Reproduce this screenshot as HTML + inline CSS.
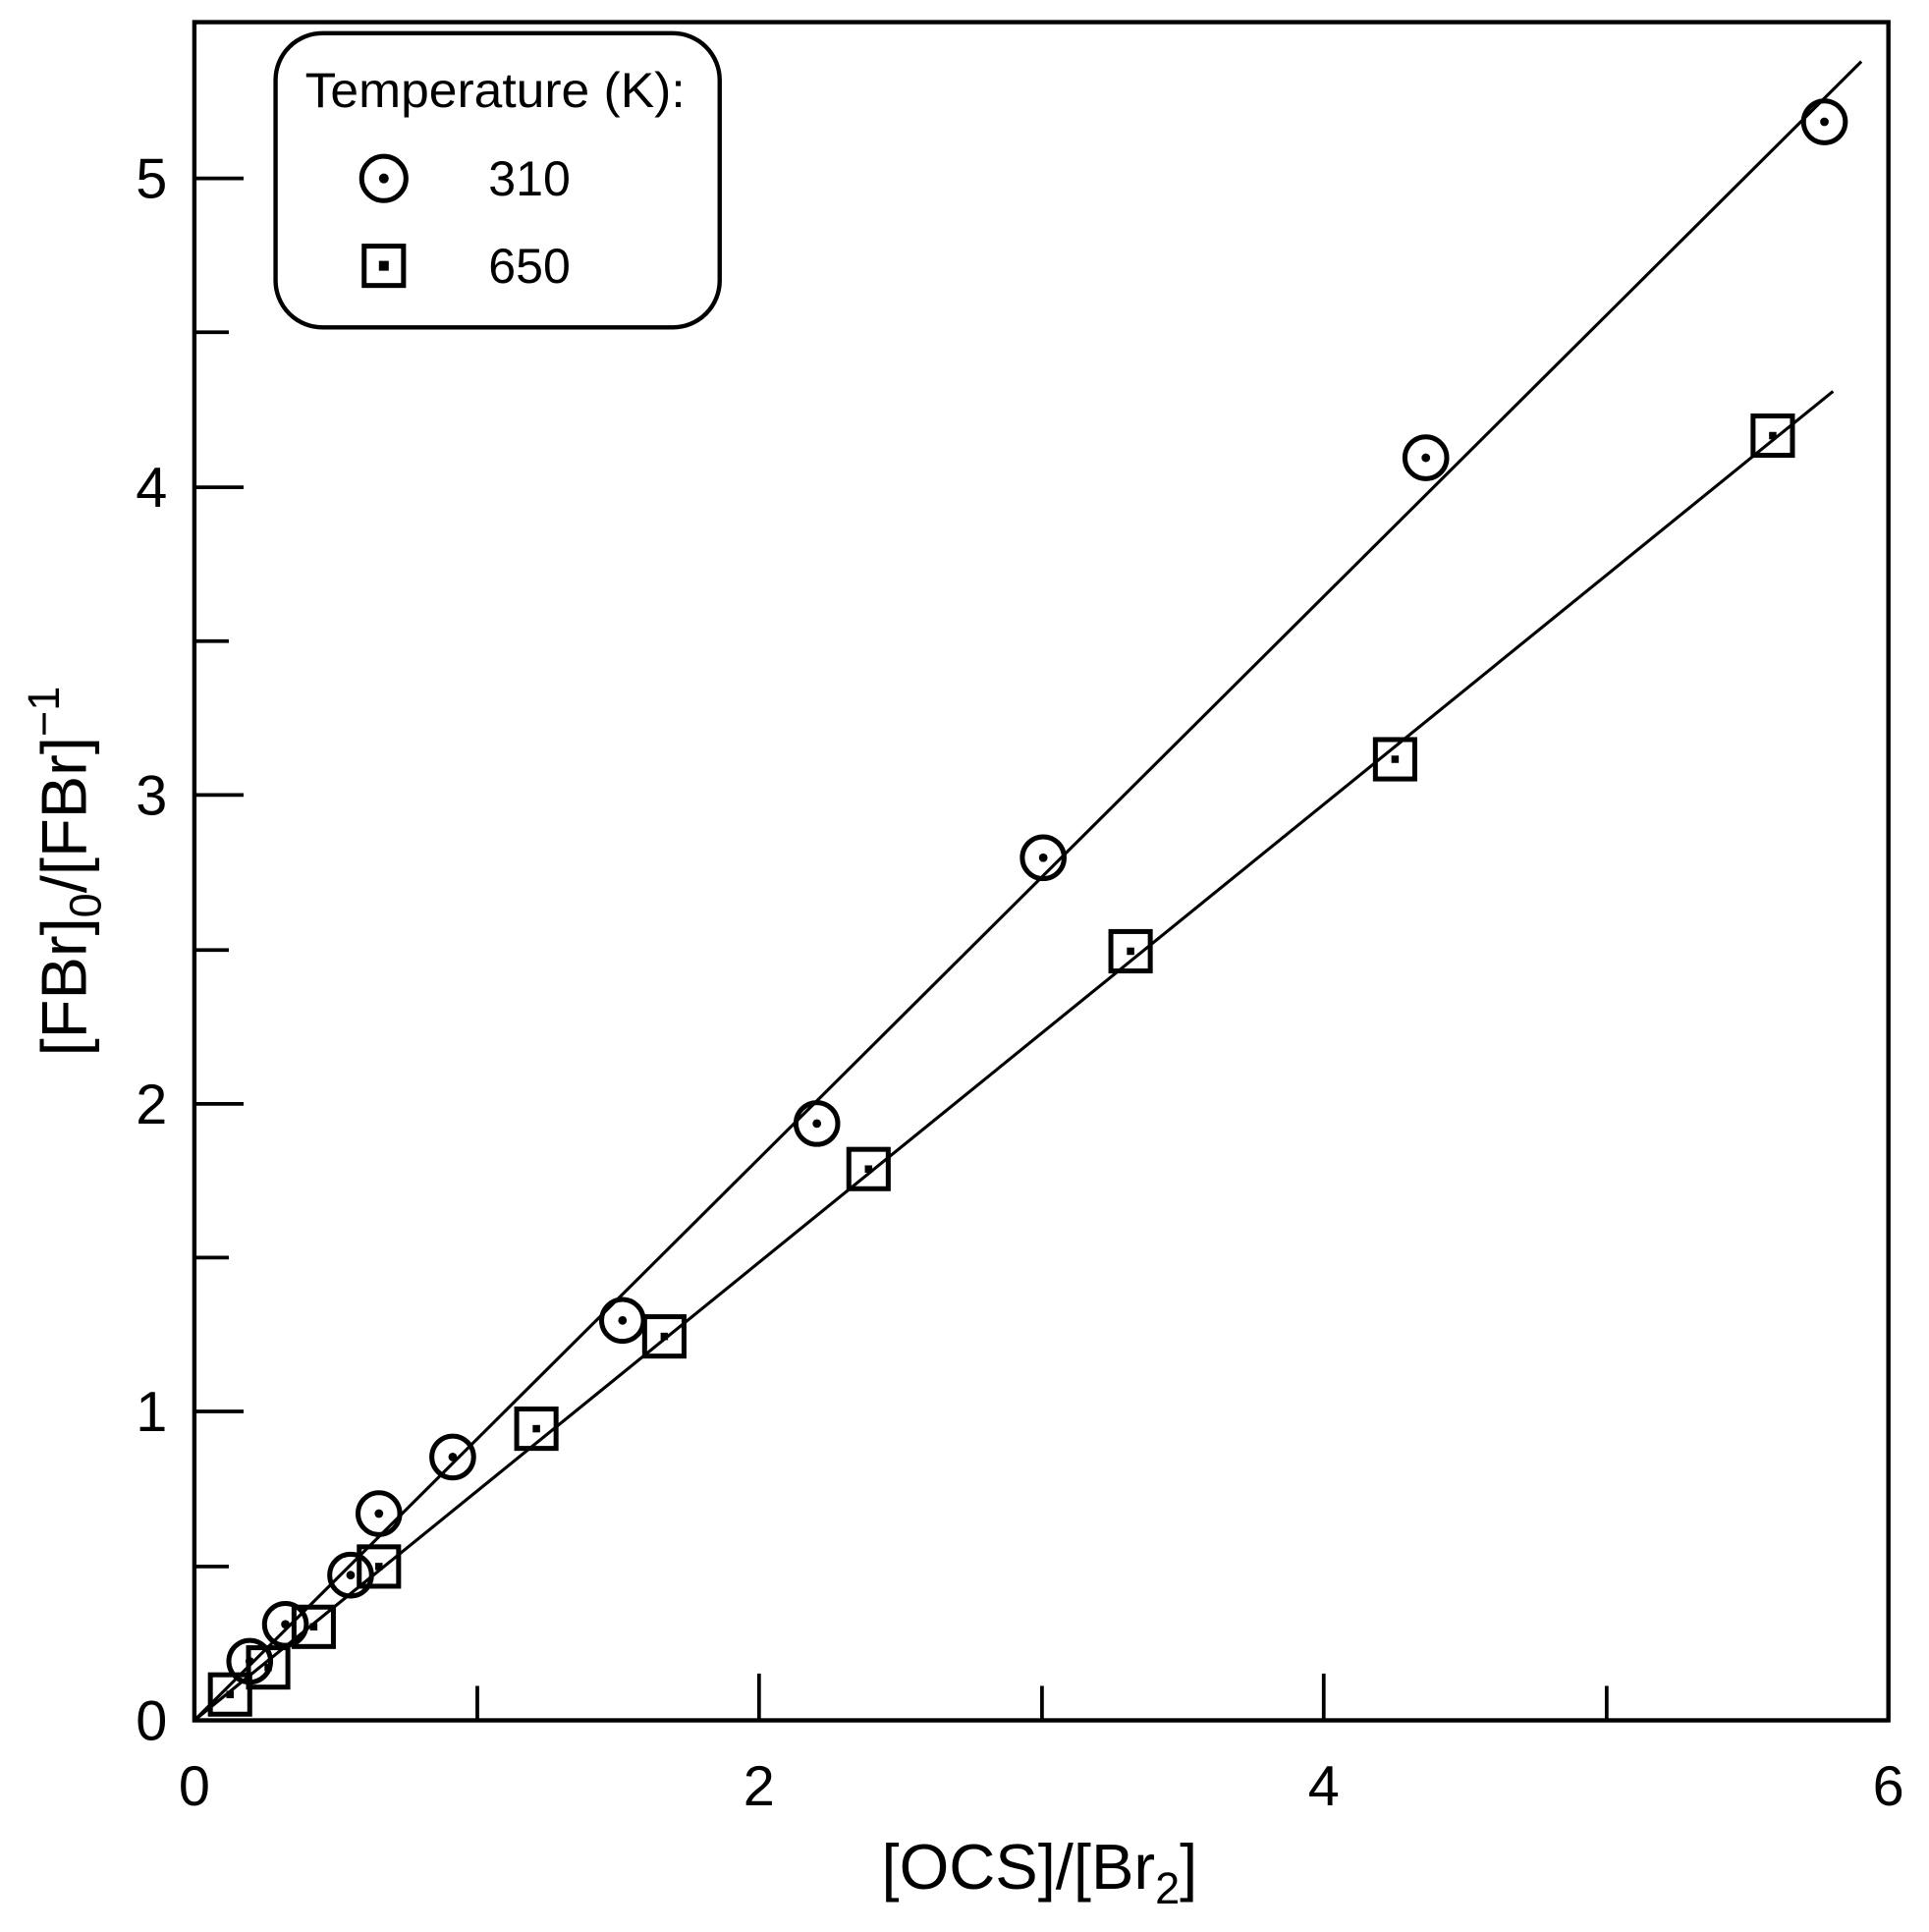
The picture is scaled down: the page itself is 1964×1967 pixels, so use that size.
<!DOCTYPE html>
<html><head><meta charset="utf-8"><style>html,body{margin:0;padding:0;background:#fff}svg{display:block}</style></head>
<body>
<svg width="1964" height="1967" viewBox="0 0 1568 1570" preserveAspectRatio="none" xmlns="http://www.w3.org/2000/svg" font-family="'Liberation Sans',sans-serif">
<rect x="0" y="0" width="1568" height="1570" fill="#fff"/>
<g stroke="#000" fill="none">
<rect x="158" y="18" width="1377" height="1380" stroke-width="3.5"/>
<g stroke-width="3">
<line x1="617" y1="1398" x2="617" y2="1360"/><line x1="1076" y1="1398" x2="1076" y2="1360"/>
<line x1="388" y1="1398" x2="388" y2="1370"/><line x1="847" y1="1398" x2="847" y2="1370"/><line x1="1306" y1="1398" x2="1306" y2="1370"/>
<line x1="158" y1="1147" x2="198" y2="1147"/><line x1="158" y1="897" x2="198" y2="897"/><line x1="158" y1="646" x2="198" y2="646"/><line x1="158" y1="396" x2="198" y2="396"/><line x1="158" y1="145" x2="198" y2="145"/>
<line x1="158" y1="1273" x2="186" y2="1273"/><line x1="158" y1="1022" x2="186" y2="1022"/><line x1="158" y1="772" x2="186" y2="772"/><line x1="158" y1="521" x2="186" y2="521"/><line x1="158" y1="270" x2="186" y2="270"/>
</g>
<line x1="158" y1="1398" x2="1513" y2="50" stroke-width="2.5"/>
<line x1="158" y1="1398" x2="1490" y2="318" stroke-width="2.5"/>
<rect x="224" y="27" width="361" height="239" rx="38" stroke-width="3.5"/>
<g stroke-width="4">
<circle cx="203" cy="1350" r="17"/><circle cx="232" cy="1320" r="17"/><circle cx="285" cy="1280" r="17"/><circle cx="308" cy="1230" r="17"/><circle cx="368" cy="1184" r="17"/><circle cx="506" cy="1073" r="17"/><circle cx="664" cy="913" r="17"/><circle cx="848" cy="697" r="17"/><circle cx="1159" cy="372" r="17"/><circle cx="1483" cy="99" r="17"/>
<circle cx="312" cy="145" r="18"/>
<rect x="171" y="1361" width="32" height="32"/><rect x="202" y="1339" width="32" height="32"/><rect x="239" y="1306" width="32" height="32"/><rect x="292" y="1257" width="32" height="32"/><rect x="420" y="1145" width="32" height="32"/><rect x="524" y="1070" width="32" height="32"/><rect x="690" y="934" width="32" height="32"/><rect x="903" y="757" width="32" height="32"/><rect x="1118" y="601" width="32" height="32"/><rect x="1425" y="338" width="32" height="32"/>
<rect x="296" y="200" width="32" height="32"/>
</g>
</g>
<g fill="#000">
<circle cx="203" cy="1350" r="3.5"/><circle cx="232" cy="1320" r="3.5"/><circle cx="285" cy="1280" r="3.5"/><circle cx="308" cy="1230" r="3.5"/><circle cx="368" cy="1184" r="3.5"/><circle cx="506" cy="1073" r="3.5"/><circle cx="664" cy="913" r="3.5"/><circle cx="848" cy="697" r="3.5"/><circle cx="1159" cy="372" r="3.5"/><circle cx="1483" cy="99" r="3.5"/><circle cx="312" cy="145" r="4"/>
<rect x="184" y="1374" width="6" height="6"/><rect x="215" y="1352" width="6" height="6"/><rect x="252" y="1319" width="6" height="6"/><rect x="305" y="1270" width="6" height="6"/><rect x="433" y="1158" width="6" height="6"/><rect x="537" y="1083" width="6" height="6"/><rect x="703" y="947" width="6" height="6"/><rect x="916" y="770" width="6" height="6"/><rect x="1131" y="614" width="6" height="6"/><rect x="1438" y="351" width="6" height="6"/><rect x="308" y="212" width="8" height="8"/>
<g font-size="46" text-anchor="middle">
<text x="158" y="1467">0</text><text x="617" y="1467">2</text><text x="1076" y="1467">4</text><text x="1535" y="1467">6</text>
</g>
<g font-size="46" text-anchor="end">
<text x="136" y="1414">0</text><text x="136" y="1163">1</text><text x="136" y="913">2</text><text x="136" y="662">3</text><text x="136" y="412">4</text><text x="136" y="161">5</text>
</g>
<text x="845" y="1535" font-size="52" text-anchor="middle">[OCS]/[Br<tspan font-size="36" dy="12">2</tspan><tspan dy="-12">]</tspan></text>
<text transform="translate(70,708) rotate(-90)" font-size="52" text-anchor="middle">[FBr]<tspan font-size="36" dy="12">0</tspan><tspan dy="-12">/[FBr]</tspan><tspan font-size="36" dy="-22">−1</tspan></text>
<text x="248" y="87" font-size="40" textLength="309" lengthAdjust="spacingAndGlyphs">Temperature (K):</text>
<text x="397" y="159" font-size="40">310</text>
<text x="397" y="230" font-size="40">650</text>
</g>
</svg>
</body></html>
